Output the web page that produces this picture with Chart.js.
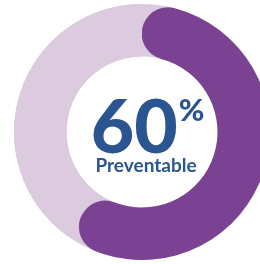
<!DOCTYPE html>
<html>
<head>
<meta charset="utf-8">
<script src="https://cdn.jsdelivr.net/npm/chart.js@4.4.1/dist/chart.umd.min.js"></script>
<style>
  html, body { margin: 0; padding: 0; background: #fff; overflow: hidden; }
  #wrap { width: 284px; height: 264px; }
</style>
</head>
<body>
<div id="wrap"><canvas id="donut" width="284" height="264"></canvas></div>
<script>
// données du graphique
const labels = ['Preventable', 'Not preventable'];
const values = [60, 40];
const colours = ['#7B4294', '#DCCADF'];
const unit = '%';
const caption = 'Preventable';
const textColour = '#2B5591';

// anneau clair en fond, pour que les bouts arrondis se posent dessus
const ringBack = {
    id: 'ringBack',
    beforeDatasetsDraw(chart) {
        const arc = chart.getDatasetMeta(0).data[0];
        const p = arc.getProps(['x', 'y', 'innerRadius', 'outerRadius'], true);
        const c = chart.ctx;
        c.save();
        c.beginPath();
        c.arc(p.x, p.y, p.outerRadius, 0, Math.PI * 2);
        c.arc(p.x, p.y, p.innerRadius, 0, Math.PI * 2, true);
        c.fillStyle = colours[1];
        c.fill();
        c.restore();
    }
};

// texte au centre
const centreText = {
    id: 'centreText',
    afterDraw(chart) {
        const arc = chart.getDatasetMeta(0).data[0];
        const { x, y } = arc.getProps(['x', 'y'], true);
        const c = chart.ctx;
        c.save();
        c.fillStyle = textColour;
        c.textBaseline = 'alphabetic';

        const big = String(values[0]);
        const bigFont = '900 75px Lato';
        const unitFont = '900 31px Lato';
        c.font = bigFont;
        const wBig = c.measureText(big).width;
        c.font = unitFont;
        const wUnit = c.measureText(unit).width;
        const left = x + 5 - (wBig + wUnit) / 2;

        c.textAlign = 'left';
        c.font = bigFont;
        c.fillText(big, left, y + 21);
        c.font = unitFont;
        c.fillText(unit, left + wBig + 1, y - 11);

        c.textAlign = 'center';
        c.font = 'bold 19px Lato';
        c.fillText(caption, x + 4, y + 40);
        c.restore();
    }
};

const chart = new Chart(document.getElementById('donut'), {
    type: 'doughnut',
    data: {
        labels: labels,
        datasets: [{
            data: values,
            backgroundColor: colours,
            borderWidth: 0,
            borderRadius: [40, 0]
        }]
    },
    options: {
        responsive: false,
        animation: false,
        cutout: '59%',
        layout: { padding: 4 },
        plugins: {
            legend: { display: false },
            tooltip: { enabled: false }
        }
    },
    plugins: [ringBack, centreText]
});
</script>
</body>
</html>
